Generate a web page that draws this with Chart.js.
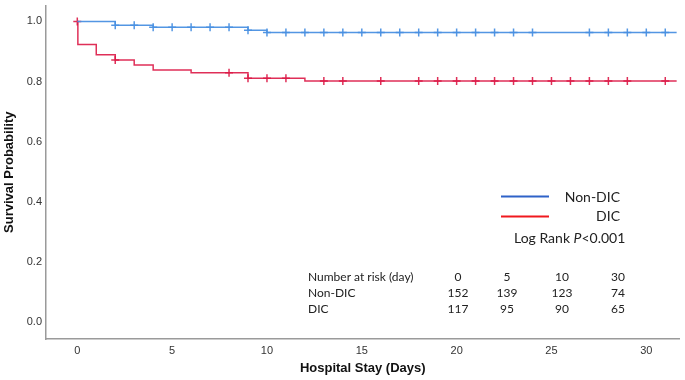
<!DOCTYPE html>
<html>
<head>
<meta charset="utf-8">
<script src="https://cdn.jsdelivr.net/npm/chart.js@4/dist/chart.umd.min.js"></script>
<style>
  html, body { margin: 0; padding: 0; background: #fff; }
  #wrap { position: relative; width: 685px; height: 380px; }
</style>
</head>
<body>
<div id="wrap"><canvas id="c" width="685" height="380"></canvas></div>
<script>
// ---- Data ----
const seriesNames = ["Non-DIC", "DIC"];
// Kaplan-Meier step points (time in days, survival probability)
const nonDicTimes = [0, 2, 4, 9, 10, 31.6];
const nonDicSurv  = [1.0, 0.987, 0.981, 0.971, 0.963, 0.963];
const dicTimes    = [0, 0.03, 1, 2, 3, 4, 6, 9, 12, 31.6];
const dicSurv     = [1.0, 0.923, 0.889, 0.872, 0.855, 0.838, 0.829, 0.811, 0.802, 0.802];
// Censoring marks (days)
const nonDicCensor = [2,3,4,5,6,7,8,9,10,11,12,13,14,15,16,17,18,19,20,21,22,23,24,27,28,29,30,31];
const dicCensor    = [0,2,8,9,10,11,13,14,16,18,19,20,21,22,23,24,25,26,27,28,29,31];
// Axis ticks
const xTicks = [0, 5, 10, 15, 20, 25, 30];
const yTicks = [0.0, 0.2, 0.4, 0.6, 0.8, 1.0];
// Number at risk table
const riskHeader = "Number at risk (day)";
const riskDays   = [0, 5, 10, 30];
const riskNonDic = [152, 139, 123, 74];
const riskDic    = [117, 95, 90, 65];
const pText = ["Log Rank ", "P", "<0.001"];

function levelAt(times, surv, t) {
  let v = surv[0];
  for (let i = 0; i < times.length; i++) { if (times[i] <= t) v = surv[i]; }
  return v;
}
const toPts = (ts, ss) => ts.map((t, i) => ({x: t, y: ss[i]}));
const censorPts = (cs, ts, ss) => cs.map(t => ({x: t, y: levelAt(ts, ss, t)}));

const BLUE = 'rgba(74,144,226,0.95)';
const RED  = 'rgba(220,24,70,0.9)';

const overlay = {
  id: 'overlay',
  afterDraw(chart) {
    const ctx = chart.ctx;
    ctx.save();
    // legend
    ctx.lineWidth = 2;
    ctx.strokeStyle = '#2f62c8';
    ctx.beginPath(); ctx.moveTo(501, 196.5); ctx.lineTo(549, 196.5); ctx.stroke();
    ctx.strokeStyle = '#f0191e';
    ctx.beginPath(); ctx.moveTo(501, 216.5); ctx.lineTo(549, 216.5); ctx.stroke();
    ctx.fillStyle = '#222';
    ctx.font = '14px Lato';
    ctx.textBaseline = 'middle';
    ctx.textAlign = 'right';
    ctx.fillText(seriesNames[0], 620, 197);
    ctx.fillText(seriesNames[1], 620, 216);
    // log rank
    ctx.textAlign = 'left';
    let x = 514;
    ctx.font = '14px Lato';
    ctx.fillText(pText[0], x, 238); x += ctx.measureText(pText[0]).width;
    ctx.font = 'italic 14px Lato';
    ctx.fillText(pText[1], x, 238); x += ctx.measureText(pText[1]).width;
    ctx.font = '14px Lato';
    ctx.fillText(pText[2], x, 238);
    // risk table
    ctx.font = '12px Lato';
    ctx.fillStyle = '#222';
    const colX = [458, 507, 562, 618];
    const rowY = [277, 293, 309];
    ctx.textAlign = 'left';
    ctx.fillText(riskHeader, 308, rowY[0]);
    ctx.fillText(seriesNames[0], 308, rowY[1]);
    ctx.fillText(seriesNames[1], 308, rowY[2]);
    ctx.textAlign = 'center';
    riskDays.forEach((d, i) => ctx.fillText(String(d), colX[i], rowY[0]));
    riskNonDic.forEach((d, i) => ctx.fillText(String(d), colX[i], rowY[1]));
    riskDic.forEach((d, i) => ctx.fillText(String(d), colX[i], rowY[2]));
    ctx.restore();
  }
};

new Chart(document.getElementById('c'), {
  type: 'line',
  data: {
    datasets: [
      { label: seriesNames[0], data: toPts(nonDicTimes, nonDicSurv), stepped: true,
        borderColor: BLUE, borderWidth: 1.5, pointRadius: 0, fill: false },
      { label: seriesNames[1], data: toPts(dicTimes, dicSurv), stepped: true,
        borderColor: RED, borderWidth: 1.5, pointRadius: 0, fill: false },
      { label: 'c1', data: censorPts(nonDicCensor, nonDicTimes, nonDicSurv), showLine: false,
        pointStyle: 'cross', pointRadius: 4, borderColor: BLUE, borderWidth: 1.5, backgroundColor: BLUE },
      { label: 'c2', data: censorPts(dicCensor, dicTimes, dicSurv), showLine: false,
        pointStyle: 'cross', pointRadius: 4, borderColor: RED, borderWidth: 1.5, backgroundColor: RED }
    ]
  },
  options: {
    responsive: false,
    animation: false,
    layout: { padding: { top: 3, right: 2, left: 0, bottom: 0 } },
    plugins: { legend: { display: false }, tooltip: { enabled: false } },
    scales: {
      x: {
        type: 'linear', min: -1.65, max: 31.75,
        afterBuildTicks: s => { s.ticks = xTicks.map(v => ({value: v})); },
        afterFit: s => { s.height = 41; s.paddingLeft = 0; s.paddingRight = 0; },
        grid: { display: false, drawTicks: false },
        border: { display: true, color: '#9a9a9a', width: 1.5 },
        ticks: { color: '#333', font: { family: 'Liberation Sans', size: 11 }, padding: 5, maxRotation: 0 },
        title: { display: true, text: 'Hospital Stay (Days)', color: '#111',
                 font: { family: 'Liberation Sans', size: 13, weight: 'bold' }, padding: { top: 4, bottom: 4 } }
      },
      y: {
        type: 'linear', min: -0.057, max: 1.053,
        afterBuildTicks: s => { s.ticks = yTicks.map(v => ({value: v})); },
        afterFit: s => { s.width = 46; s.paddingTop = 0; s.paddingBottom = 0; },
        grid: { display: false, drawTicks: false },
        border: { display: true, color: '#9a9a9a', width: 1.5 },
        ticks: { color: '#333', font: { family: 'Liberation Sans', size: 11 }, padding: 4,
                 callback: v => Number(v).toFixed(1) },
        title: { display: true, text: 'Survival Probability', color: '#111',
                 font: { family: 'Liberation Sans', size: 13, weight: 'bold' }, padding: { top: 2, bottom: 2 } }
      }
    }
  },
  plugins: [overlay]
});
</script>
</body>
</html>
